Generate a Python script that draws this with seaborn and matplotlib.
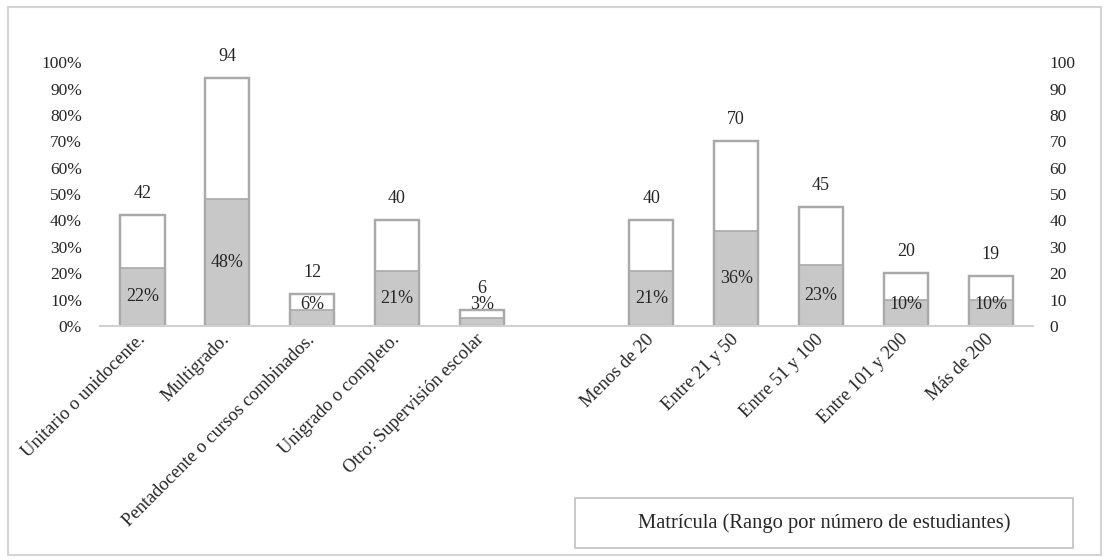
import numpy as np
import pandas as pd
import matplotlib
matplotlib.use("Agg")
import matplotlib.pyplot as plt
import seaborn as sns
from matplotlib.patches import Rectangle

# =====================
# Data
# =====================
tipo_labels = ["Unitario o unidocente.", "Multigrado.", "Pentadocente o cursos combinados.",
               "Unigrado o completo.", "Otro: Supervisión escolar"]
tipo_counts = [42, 94, 12, 40, 6]
tipo_pct = [22, 48, 6, 21, 3]

matricula_labels = ["Menos de 20", "Entre 21 y 50", "Entre 51 y 100", "Entre 101 y 200", "Más de 200"]
matricula_counts = [40, 70, 45, 20, 19]
matricula_pct = [21, 36, 23, 10, 10]

legend_text = "Matrícula (Rango por número de estudiantes)"

gap = " "
order = tipo_labels + [gap] + matricula_labels
df = pd.DataFrame({
    "categoria": tipo_labels + matricula_labels,
    "n": tipo_counts + matricula_counts,
    "pct": tipo_pct + matricula_pct,
})

# =====================
# Style
# =====================
sns.set_theme(style="white")
plt.rcParams["font.family"] = ["Liberation Serif", "DejaVu Serif"]

edge = "#a9a9a9"
fill = "#c8c8c8"
fs = 13

fig = plt.figure(figsize=(11.08, 5.6), dpi=100)
ax = fig.add_axes([0.0903, 0.418, 0.842, 0.471])

sns.barplot(data=df, x="categoria", y="n", order=order, color="white",
            edgecolor=edge, linewidth=1.6, width=0.52, ax=ax, saturation=1)
sns.barplot(data=df, x="categoria", y="pct", order=order, color=fill,
            edgecolor=edge, linewidth=1.2, width=0.52, ax=ax, saturation=1)
# redraw outlines on top
sns.barplot(data=df, x="categoria", y="n", order=order, fill=False,
            edgecolor=edge, linewidth=1.6, width=0.52, ax=ax)

ax.set_ylim(0, 100)
ax.set_xlim(-0.5, len(order) - 0.5)
ax.set_yticks(np.arange(0, 101, 10))
ax.set_yticklabels([f"{v}%" for v in range(0, 101, 10)], fontsize=12.5)
ax.set_xlabel("")
ax.set_ylabel("")

# count and percent labels
for i, cat in enumerate(order):
    row = df[df["categoria"] == cat]
    if row.empty:
        continue
    n = row["n"].iloc[0]
    p = row["pct"].iloc[0]
    ax.annotate(f"{n}", (i, n), xytext=(0, 15.5), textcoords="offset points",
                ha="center", va="center", fontsize=fs)
    ax.text(i, max(p / 2, 8.0), f"{p}%", ha="center", va="center", fontsize=fs)

ax.set_xticks(range(len(order)))
ax.set_xticklabels([("" if c == gap else c) for c in order], rotation=45,
                   ha="right", va="center", rotation_mode="anchor", fontsize=13.3)
ax.tick_params(axis="x", length=0, pad=8)
ax.tick_params(axis="y", length=0, pad=13)

for s in ["top", "left", "right"]:
    ax.spines[s].set_visible(False)
ax.spines["bottom"].set_color("#d0d0d0")
ax.spines["bottom"].set_linewidth(1.5)

ax2 = ax.twinx()
ax2.set_ylim(0, 100)
ax2.set_yticks(np.arange(0, 101, 10))
ax2.set_yticklabels([str(v) for v in range(0, 101, 10)], fontsize=12.5)
ax2.tick_params(axis="y", length=0, pad=12)
for s in ["top", "left", "right", "bottom"]:
    ax2.spines[s].set_visible(False)

# outer frame
fig.patches.append(Rectangle((8 / 1108, 5 / 560), 1093 / 1108, 548 / 560,
                             transform=fig.transFigure, fill=False,
                             edgecolor="#d4d4d4", linewidth=1.5))
# legend-like box
fig.patches.append(Rectangle((575 / 1108, 12 / 560), 498 / 1108, 50 / 560,
                             transform=fig.transFigure, fill=False,
                             edgecolor="#c0c0c0", linewidth=1.2))
fig.text((575 + 249) / 1108, 37 / 560, legend_text, ha="center", va="center", fontsize=14.8)

fig.savefig("out.png", dpi=100, facecolor="white")
